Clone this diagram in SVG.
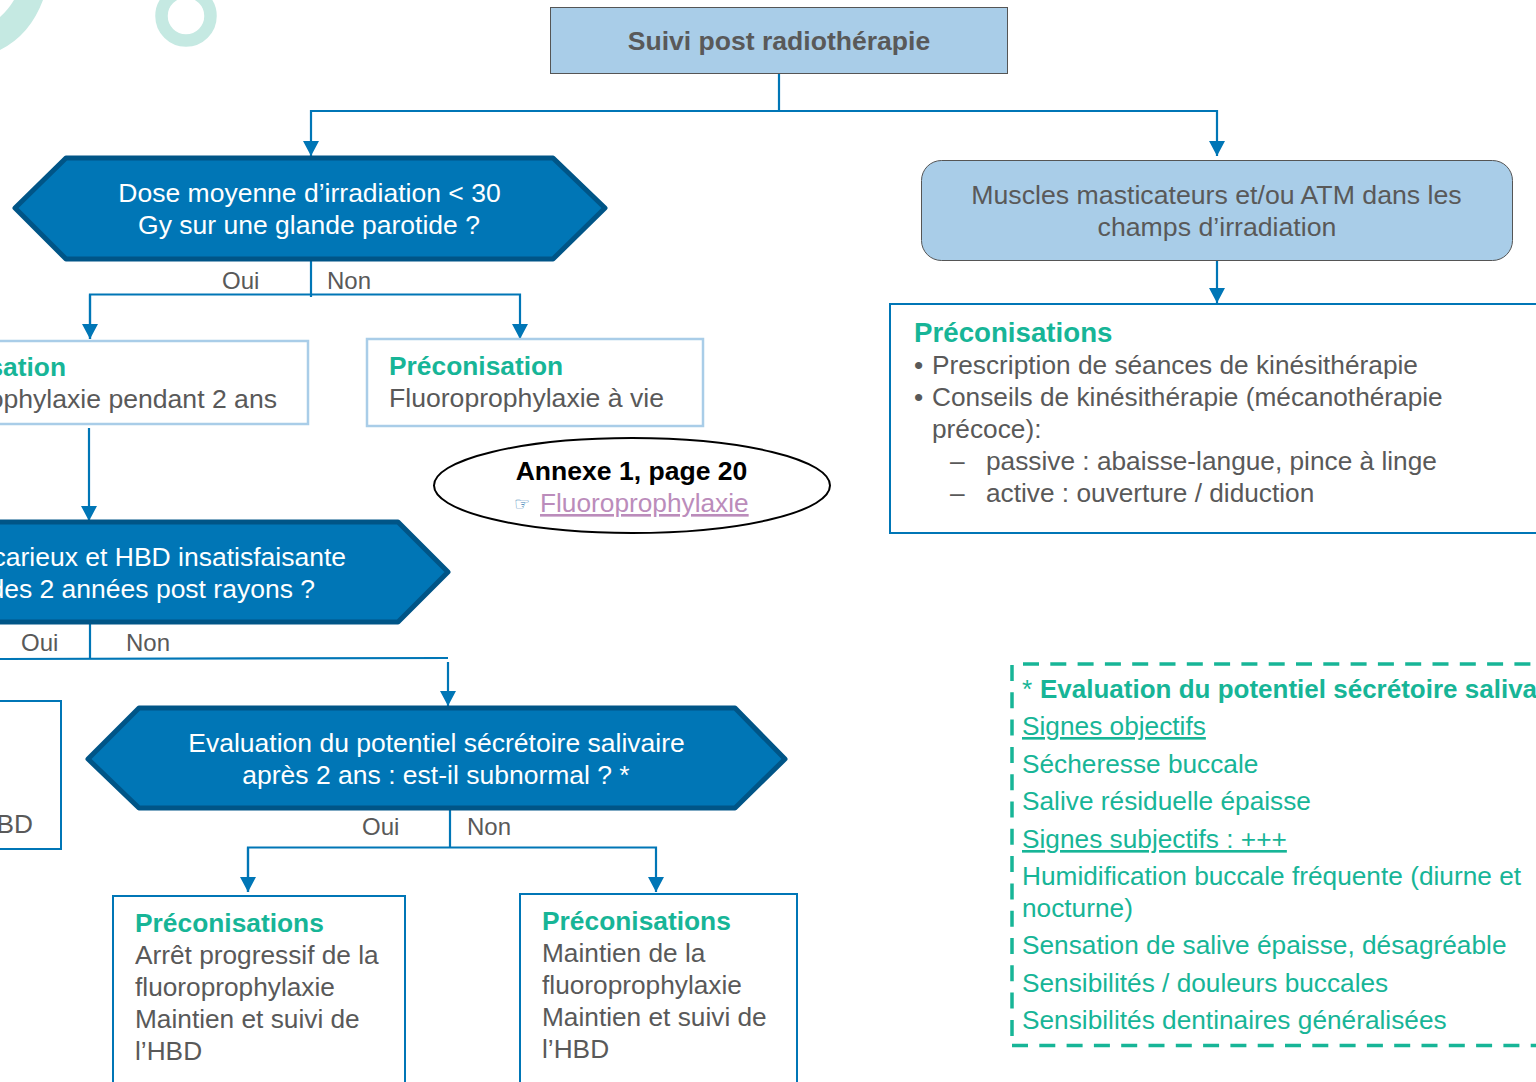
<svg xmlns="http://www.w3.org/2000/svg" width="1536" height="1082" viewBox="0 0 1536 1082">
<style>
text{font-family:"Liberation Sans",Arial,sans-serif;font-size:26.25px;fill:#595959}
.w{fill:#fff;font-size:26.5px}.c{text-anchor:middle}.e{text-anchor:end}.b{font-weight:bold;font-size:26.55px}
.g{fill:#17b597;font-weight:bold;font-size:26.35px}.t{fill:#17b597}
.l{font-size:24px}
.hex{fill:#0076b6;stroke:#005587;stroke-width:5;stroke-linejoin:round}
.box{fill:#fff;stroke:#0076b6;stroke-width:2}
.lt{fill:#fff;stroke:#a9cde8;stroke-width:2.500}
.conn{fill:none;stroke:#0076b6;stroke-width:2.200}
.note{fill:none;stroke:#17b597;stroke-width:3.500;stroke-dasharray:16 11.300}
</style>
<defs><marker id="a" markerUnits="userSpaceOnUse" markerWidth="17" markerHeight="17" refX="15" refY="8" orient="auto"><path d="M0,0L15,8L0,16Z" fill="#0076b6"/></marker></defs>
<rect width="1536" height="1082" fill="#fff"/>
<g id="decor"><path d="M14,0Q8,10 0,17V50Q30,35 43,0Z" fill="#c5e9e2"/><circle cx="186" cy="16" r="24.500" fill="none" stroke="#c5e9e2" stroke-width="12.500"/></g>
<g id="connectors">
<path class="conn" d="M779,74V111H311V156" marker-end="url(#a)"/>
<path class="conn" d="M779,111H1217V156" marker-end="url(#a)"/>
<path class="conn" d="M1217,261V303" marker-end="url(#a)"/>
<path class="conn" d="M311,261V297"/>
<path class="conn" d="M90,339V294.500H520V339" marker-end="url(#a)"/>
<path class="conn" d="M90,294.500V339" marker-end="url(#a)"/>
<path class="conn" d="M89,428V521" marker-end="url(#a)"/>
<path class="conn" d="M90,624V659"/>
<path class="conn" d="M0,659L448,658"/>
<path class="conn" d="M448,662V706" marker-end="url(#a)"/>
<path class="conn" d="M450,810V848"/>
<path class="conn" d="M248,892V847.500H656V892" marker-end="url(#a)"/>
<path class="conn" d="M248,847.500V892" marker-end="url(#a)"/>
</g>
<g id="n-title"><rect x="550.500" y="7.500" width="457" height="66" fill="#a9cde8" stroke="#555" stroke-width="1"/><text class="c b" x="779" y="50">Suivi post radiothérapie</text></g>
<g id="n-dose"><path class="hex" d="M66,158H553L605,208L553,259H66L15,208Z"/><text class="w c" x="309.500" y="202">Dose moyenne d’irradiation &lt; 30</text><text class="w c" x="309" y="234">Gy sur une glande parotide ?</text></g>
<g id="n-muscles"><rect x="921.500" y="160.500" width="591" height="100" rx="20" fill="#a9cde8" stroke="#555" stroke-width="1"/><text class="c" x="1216.500" y="204" style="font-size:26.7px">Muscles masticateurs et/ou ATM dans les</text><text class="c" x="1217" y="236" style="font-size:26.7px">champs d’irradiation</text></g>
<g id="n-preco-right"><path class="box" d="M1540,304H890V533H1540"/><text class="g" x="914" y="342" style="font-size:27.700px">Préconisations</text><text x="914" y="374">•</text><text x="932" y="374">Prescription de séances de kinésithérapie</text><text x="914" y="406">•</text><text x="932" y="406">Conseils de kinésithérapie (mécanothérapie</text><text x="932" y="438">précoce):</text><text x="950" y="470">–</text><text x="986" y="470">passive : abaisse-langue, pince à linge</text><text x="950" y="502">–</text><text x="986" y="502">active : ouverture / diduction</text></g>
<g id="n-preco-2ans"><path class="lt" d="M-4,341H308V424H-4"/><text class="g e" x="66" y="376">sation</text><text class="e" x="277" y="408" style="font-size:26.6px">ophylaxie pendant 2 ans</text></g>
<g id="n-preco-vie"><rect class="lt" x="367" y="339" width="336" height="87"/><text class="g" x="389" y="375">Préconisation</text><text x="389" y="407" style="font-size:26.6px">Fluoroprophylaxie à vie</text></g>
<g id="n-annexe"><ellipse cx="632" cy="485.500" rx="198" ry="47.500" fill="#fff" stroke="#000" stroke-width="2"/><text class="c b" x="631.500" y="480" style="fill:#000">Annexe 1, page 20</text><text x="514" y="510" style="font-family:'DejaVu Sans',sans-serif;font-size:18px;fill:#3b7fb5">☞</text><text x="540" y="512" text-decoration="underline" style="fill:#bb8cbb">Fluoroprophylaxie</text></g>
<g id="n-carieux"><path class="hex" d="M-8,522H398L448,572L398,622H-8Z"/><text class="w e" x="346" y="566">carieux et HBD insatisfaisante</text><text class="w e" x="315" y="598">des 2 années post rayons ?</text></g>
<g id="n-left-box"><path class="box" d="M-4,701H61V849H-4"/><text class="e" x="33" y="833">BD</text></g>
<g id="n-eval"><path class="hex" d="M139,708H735L785,759L735,808H139L88,759Z"/><text class="w c" x="436.500" y="752">Evaluation du potentiel sécrétoire salivaire</text><text class="w c" x="436" y="784">après 2 ans : est-il subnormal ? *</text></g>
<g id="n-preco-arret"><path class="box" d="M113,1084V896H405V1084"/><text class="g" x="135" y="932">Préconisations</text><text x="135" y="964">Arrêt progressif de la</text><text x="135" y="996">fluoroprophylaxie</text><text x="135" y="1028">Maintien et suivi de</text><text x="135" y="1060">l’HBD</text></g>
<g id="n-preco-maintien"><path class="box" d="M520,1084V894H797V1084"/><text class="g" x="542" y="930">Préconisations</text><text x="542" y="962">Maintien de la</text><text x="542" y="994">fluoroprophylaxie</text><text x="542" y="1026">Maintien et suivi de</text><text x="542" y="1058">l’HBD</text></g>
<g id="n-eval-note"><path class="note" d="M1012,665V1045"/><path class="note" d="M1023,664H1540"/><path class="note" d="M1012,1045.500H1540"/><text class="t" x="1022" y="698">*</text><text class="g" x="1040" y="698" style="font-size:26px">Evaluation du potentiel sécrétoire salivaire</text><text class="t" x="1022" y="735" text-decoration="underline">Signes objectifs</text><text class="t" x="1022" y="773">Sécheresse buccale</text><text class="t" x="1022" y="810">Salive résiduelle épaisse</text><text class="t" x="1022" y="848" text-decoration="underline">Signes subjectifs : +++</text><text class="t" x="1022" y="885">Humidification buccale fréquente (diurne et</text><text class="t" x="1022" y="917">nocturne)</text><text class="t" x="1022" y="954">Sensation de salive épaisse, désagréable</text><text class="t" x="1022" y="992">Sensibilités / douleurs buccales</text><text class="t" x="1022" y="1029">Sensibilités dentinaires généralisées</text></g>
<g id="labels"><text class="l" x="222" y="289">Oui</text><text class="l" x="327" y="289">Non</text><text class="l" x="21" y="651">Oui</text><text class="l" x="126" y="651">Non</text><text class="l" x="362" y="835">Oui</text><text class="l" x="467" y="835">Non</text></g>
</svg>
